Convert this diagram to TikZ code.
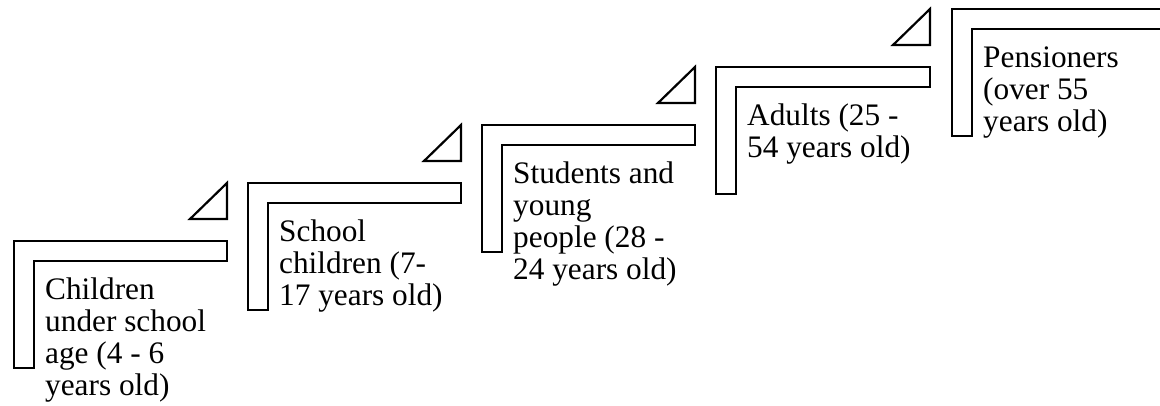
\documentclass[tikz,border=0pt]{standalone}
\usepackage{fontspec}
\setmainfont{Liberation Serif}
\begin{document}
\begin{tikzpicture}[x=1pt,y=-1pt,
  stepshape/.style={draw=black,line width=2.2pt,fill=white,line join=miter},
  steptext/.style={anchor=north west,inner sep=0pt,align=left,font=\fontsize{31.3}{32}\selectfont}]
\useasboundingbox (0,0) rectangle (1160,405);
\clip (0,0) rectangle (1160,405);
% L-shaped steps
\draw[stepshape] (14,241) -- ++(213,0) -- ++(0,20) -- ++(-193,0) -- ++(0,107) -- ++(-20,0) -- cycle;
\draw[stepshape] (248,183) -- ++(213,0) -- ++(0,20) -- ++(-193,0) -- ++(0,107) -- ++(-20,0) -- cycle;
\draw[stepshape] (482,125) -- ++(213,0) -- ++(0,20) -- ++(-193,0) -- ++(0,107) -- ++(-20,0) -- cycle;
\draw[stepshape] (716,67) -- ++(214,0) -- ++(0,20) -- ++(-194,0) -- ++(0,107) -- ++(-20,0) -- cycle;
\draw[stepshape] (952,9) -- ++(230,0) -- ++(0,20) -- ++(-210,0) -- ++(0,107) -- ++(-20,0) -- cycle;
% triangles
\draw[stepshape] (190,219) -- (227,219) -- (227,183) -- cycle;
\draw[stepshape] (424,161) -- (461,161) -- (461,125) -- cycle;
\draw[stepshape] (658,103) -- (695,103) -- (695,67) -- cycle;
\draw[stepshape] (893,45) -- (930,45) -- (930,9) -- cycle;
% texts
\node[steptext] (t1) at (45,276.6) {\strut Children\\under school\\age (4 - 6\\years old)};
\node[steptext] (t2) at (279,218.6) {\strut School\\children (7-\\17 years old)};
\node[steptext] (t3) at (513,160.6) {\strut Students and\\young\\people (28 -\\24 years old)};
\node[steptext] (t4) at (747,102.6) {\strut Adults (25 -\\54 years old)};
\node[steptext] (t5) at (983,44.6) {\strut Pensioners\\(over 55\\years old)};
\end{tikzpicture}
\end{document}
